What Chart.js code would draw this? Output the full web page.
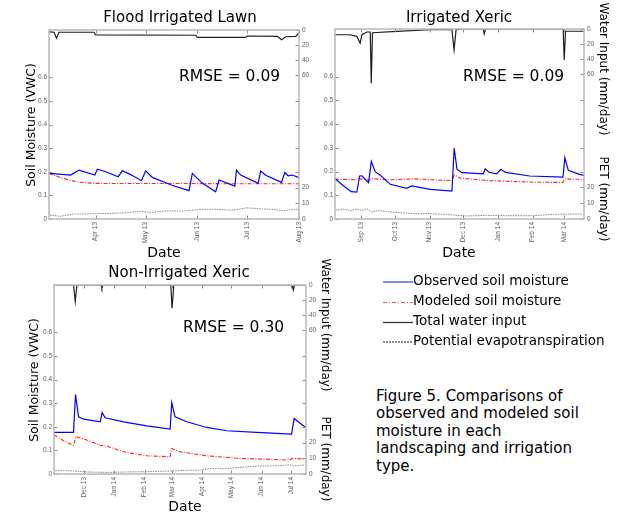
<!DOCTYPE html>
<html><head><meta charset="utf-8">
<script src="https://cdn.jsdelivr.net/npm/chart.js@4.4.1/dist/chart.umd.min.js"></script>
<style>
html,body{margin:0;padding:0;background:#fff;}
body{width:623px;height:512px;position:relative;overflow:hidden;font-family:"DejaVu Sans",sans-serif;color:#000;}
canvas{position:absolute;}
.t{position:absolute;white-space:nowrap;line-height:1;}
.c{transform:translateX(-50%);}
.rl{transform:translate(-50%,-50%) rotate(-90deg);}
.rr{transform:translate(-50%,-50%) rotate(90deg);}
</style></head><body>
<canvas id="c1" width="308" height="231" style="left:19px;top:22px"></canvas>
<canvas id="c2" width="307" height="232" style="left:305px;top:21px"></canvas>
<canvas id="c3" width="310" height="231" style="left:24px;top:277px"></canvas>

<div class="t c" style="left:180px;top:10px;font-size:15px">Flood Irrigated Lawn</div>
<div class="t c" style="left:459px;top:10px;font-size:15px">Irrigated Xeric</div>
<div class="t c" style="left:179px;top:265px;font-size:15px">Non-Irrigated Xeric</div>

<div class="t" style="left:179px;top:68.5px;font-size:15.5px">RMSE = 0.09</div>
<div class="t" style="left:463px;top:68.5px;font-size:15.5px">RMSE = 0.09</div>
<div class="t" style="left:183px;top:320px;font-size:15.5px">RMSE = 0.30</div>

<div class="t c" style="left:164px;top:245px;font-size:14px">Date</div>
<div class="t c" style="left:459px;top:245px;font-size:14px">Date</div>
<div class="t c" style="left:185px;top:499px;font-size:14px">Date</div>

<div class="t rl" style="left:31px;top:125px;font-size:12.5px">Soil Moisture (VWC)</div>
<div class="t rl" style="left:34px;top:380px;font-size:12.5px">Soil Moisture (VWC)</div>

<div class="t rr" style="left:603.5px;top:69px;font-size:12px">Water Input (mm/day)</div>
<div class="t rr" style="left:603.5px;top:198.5px;font-size:12px">PET (mm/day)</div>
<div class="t rr" style="left:326px;top:325px;font-size:12px">Water Input (mm/day)</div>
<div class="t rr" style="left:326px;top:458.5px;font-size:12px">PET (mm/day)</div>

<svg style="position:absolute;left:380px;top:270px" width="40" height="80">
 <line x1="3" y1="12" x2="33" y2="12" stroke="#2040e0" stroke-width="1.2"/>
 <line x1="3" y1="32.5" x2="33" y2="32.5" stroke="#ff5a5a" stroke-width="1.2" stroke-dasharray="4 2 1 2"/>
 <line x1="3" y1="52.5" x2="33" y2="52.5" stroke="#333" stroke-width="1.3"/>
 <line x1="3" y1="72" x2="33" y2="72" stroke="#000" stroke-width="0.9" stroke-dasharray="2 1"/>
</svg>
<div class="t" style="left:413px;top:274.3px;font-size:13.5px">Observed soil moisture</div>
<div class="t" style="left:413px;top:294.3px;font-size:13.5px">Modeled soil moisture</div>
<div class="t" style="left:413px;top:314.3px;font-size:13.5px">Total water input</div>
<div class="t" style="left:413px;top:334px;font-size:13.5px">Potential evapotranspiration</div>

<div style="position:absolute;left:376px;top:387.7px;font-size:15px;line-height:17.6px;white-space:nowrap">Figure 5. Comparisons of<br>observed and modeled soil<br>moisture in each<br>landscaping and irrigation<br>type.</div>

<script>
// ---- axis ticks ----
const SM_MAX = 0.8, WAT_MAX = 252, PET_MAX = 120;
const smTicks = [0, 0.1, 0.2, 0.3, 0.4, 0.5, 0.6];
const smLabels = ['0', '0.1', '0.2', '0.3', '0.4', '0.5', '0.6'];
const smMirror = [0.2, 0.3, 0.4, 0.5];
const watTicks = [0, 20, 40, 60];
const petTicks = [0, 10, 20];

// ---- Panel 1: Flood Irrigated Lawn (day number, 1 = Jan 1 2013) ----
const p1Range = [63, 213];
const p1XTicks = [91, 121, 152, 182, 213];
const p1XLabels = ['Apr 13', 'May 13', 'Jun 13', 'Jul 13', 'Aug 13'];
const p1ObsDay = [63, 76, 81, 90.5, 92, 97, 104.5, 107, 112, 118.5, 121, 125, 136, 147, 149, 155, 163, 165, 174.5, 175.5, 178, 188.5, 190, 193, 202.5, 204.5, 206.5, 209, 213];
const p1ObsVal = [0.193, 0.186, 0.207, 0.186, 0.211, 0.200, 0.179, 0.204, 0.188, 0.162, 0.204, 0.176, 0.145, 0.120, 0.193, 0.152, 0.115, 0.165, 0.139, 0.207, 0.186, 0.151, 0.203, 0.185, 0.155, 0.197, 0.183, 0.186, 0.175];
const p1ModDay = [63, 67, 70, 75, 81, 90, 100, 150, 180, 213];
const p1ModVal = [0.193, 0.183, 0.175, 0.165, 0.156, 0.151, 0.150, 0.150, 0.149, 0.149];
const p1WatDay = [63, 66, 67.5, 69, 90, 91, 151, 152, 181, 182, 200, 202.5, 205, 211, 213];
const p1WatVal = [2.5, 3, 11, 3, 3, 6.5, 7, 9.8, 9.8, 8, 8.5, 13, 9, 8.5, 4];
const p1PetDay = [63.6, 69.6, 77.6, 97.7, 109.7, 117.7, 123.7, 133.7, 143.7, 153.7, 161.7, 173.8, 181.8, 189.8, 197.8, 203.8, 209.8, 213];
const p1PetVal = [2.5, 1.7, 3.1, 3.5, 3.9, 5.0, 4.2, 5.2, 5.0, 6.1, 6.2, 5.6, 7.1, 6.5, 6.1, 5.2, 6.1, 6.2];

// ---- Panel 2: Irrigated Xeric ----
const p2Range = [220.5, 443];
const p2XTicks = [244, 274, 305, 335, 366, 397, 425];
const p2XLabels = ['Sep 13', 'Oct 13', 'Nov 13', 'Dec 13', 'Jan 14', 'Feb 14', 'Mar 14'];
const p2ObsDay = [220.5, 228, 235, 240, 242.5, 244.5, 250.5, 253, 256.5, 261, 270, 284.5, 289, 305.5, 325, 327, 329.5, 334, 353, 354.7, 358, 365, 368.6, 373, 394.5, 424.2, 425.9, 429, 439, 443];
const p2ObsVal = [0.170, 0.140, 0.115, 0.113, 0.181, 0.182, 0.153, 0.242, 0.198, 0.184, 0.146, 0.129, 0.139, 0.125, 0.117, 0.299, 0.210, 0.195, 0.190, 0.211, 0.197, 0.190, 0.209, 0.196, 0.181, 0.176, 0.258, 0.205, 0.188, 0.184];
const p2ModDay = [220.5, 238.5, 242, 250.5, 253.5, 267, 290.5, 320, 325.5, 327, 332.5, 356, 398, 424, 426, 430, 443];
const p2ModVal = [0.168, 0.165, 0.170, 0.164, 0.170, 0.165, 0.169, 0.162, 0.164, 0.186, 0.172, 0.162, 0.155, 0.154, 0.170, 0.168, 0.167];
const p2WatDay = [220.5, 234, 240, 243, 244.5, 249, 252, 252.9, 254, 275.8, 305.5, 325, 326.9, 328.7, 335, 353, 353.8, 355, 424.4, 425.3, 426.5, 443];
const p2WatVal = [7.6, 7.6, 9.8, 18.7, 7.6, 4, 4, 72, 5, 3.2, 1, 1, 27.6, 1, 0, 0, 6.7, 0, 0, 41, 3, 3];
const p2PetDay = [220.8, 228.2, 234.2, 240.2, 244.6, 249.1, 253.5, 259.5, 266.9, 278.8, 290.6, 302.6, 314.4, 326.3, 338.2, 356, 373.9, 397.7, 415.5, 427.4, 442.2];
const p2PetVal = [5.6, 6.25, 5.2, 6.25, 5.4, 6.5, 4.4, 5.4, 4.6, 4.0, 3.3, 3.5, 3.1, 2.5, 1.9, 2.3, 2.1, 2.1, 2.9, 3.1, 3.1];

// ---- Panel 3: Non-Irrigated Xeric ----
const p3Range = [304, 562.5];
const p3XTicks = [335, 366, 397, 425, 456, 486, 517, 547];
const p3XLabels = ['Dec 13', 'Jan 14', 'Feb 14', 'Mar 14', 'Apr 14', 'May 14', 'Jun 14', 'Jul 14'];
const p3ObsDay = [304, 324, 326.1, 329.2, 334.3, 351.4, 353.4, 356.5, 375.3, 399.2, 423.1, 424.8, 428.2, 440.2, 460.7, 481.2, 511.9, 547.7, 550.4, 554.5, 562.5];
const p3ObsVal = [0.176, 0.176, 0.336, 0.242, 0.232, 0.221, 0.26, 0.238, 0.221, 0.204, 0.19, 0.302, 0.242, 0.221, 0.197, 0.183, 0.176, 0.169, 0.235, 0.221, 0.196];
const p3ModDay = [304, 313.8, 324, 326.5, 334.3, 351.4, 358.2, 375.3, 399.2, 423.1, 424.8, 433.3, 460.7, 494.8, 546, 548.7, 562.5];
const p3ModVal = [0.166, 0.141, 0.121, 0.158, 0.149, 0.122, 0.118, 0.094, 0.077, 0.073, 0.108, 0.094, 0.077, 0.066, 0.059, 0.066, 0.063];
const p3WatDay = [304, 324, 325.8, 327.5, 352.4, 353.1, 354, 423.8, 425.1, 426.9, 548.4, 549.5, 550.8, 562.5];
const p3WatVal = [0, 0, 22, 0, 0, 4, 0, 0, 31, 0, 0, 6.7, 0, 0];
const p3PetDay = [305.3, 317.3, 324, 337.7, 358.2, 378.7, 399.2, 423.1, 440.2, 453.8, 464, 477.7, 494.8, 511.9, 528.9, 546, 552.8, 561.3];
const p3PetVal = [2.1, 2.1, 1.9, 1.3, 1.0, 1.3, 1.5, 1.9, 2.3, 2.5, 3.5, 3.3, 4.2, 5.0, 5.2, 5.8, 5.2, 5.8];

// ---- drawing ----
const LW = 30, RW = 28, PT = 8, XH = 34;
const tickFont = { family: '"Liberation Sans", Arial, sans-serif', size: 6.5 };
const tickColor = '#606060';
const pts = (xs, ys) => xs.map((x, i) => ({ x: x, y: ys[i] }));

const frameTicks = {
  id: 'frameTicks',
  afterDraw(chart) {
    const { ctx, chartArea: a, scales } = chart;
    const L = 3.5;
    ctx.save();
    ctx.strokeStyle = '#8c8c8c';
    ctx.lineWidth = 1;
    ctx.beginPath();
    scales.x.ticks.forEach(t => {
      const px = Math.round(scales.x.getPixelForValue(t.value)) + 0.5;
      ctx.moveTo(px, a.bottom); ctx.lineTo(px, a.bottom - L);
      ctx.moveTo(px, a.top); ctx.lineTo(px, a.top + L);
    });
    scales.y.ticks.forEach(t => {
      const py = Math.round(scales.y.getPixelForValue(t.value)) + 0.5;
      ctx.moveTo(a.left, py); ctx.lineTo(a.left + L, py);
    });
    scales.yP.ticks.forEach(t => {
      const py = Math.round(scales.yP.getPixelForValue(t.value)) + 0.5;
      ctx.moveTo(a.right, py); ctx.lineTo(a.right - L, py);
    });
    ctx.stroke();
    ctx.strokeStyle = '#b8b8b8';
    ctx.lineWidth = 1.5;
    ctx.strokeRect(a.left, a.top, a.right - a.left, a.bottom - a.top);
    ctx.restore();
  }
};

function makePanel(id, range, xTicks, xLabels, obsD, obsV, modD, modV, watD, watV, petD, petV) {
  new Chart(document.getElementById(id), {
    type: 'line',
    data: {
      datasets: [
        { data: pts(obsD, obsV), yAxisID: 'y', borderColor: '#0000ff', borderWidth: 1.2 },
        { data: pts(modD, modV), yAxisID: 'y', borderColor: '#ff2020', borderWidth: 1.1, borderDash: [4, 1.5, 1, 1.5] },
        { data: pts(watD, watV), yAxisID: 'yW', borderColor: '#1e1e1e', borderWidth: 1.2 },
        { data: pts(petD, petV), yAxisID: 'yP', borderColor: '#6a6a6a', borderWidth: 0.8, borderDash: [1.5, 1] }
      ]
    },
    options: {
      responsive: false,
      animation: false,
      layout: { padding: { top: PT, left: 0, right: 0, bottom: 0 } },
      elements: { point: { radius: 0 }, line: { tension: 0 } },
      plugins: { legend: { display: false }, tooltip: { enabled: false }, title: { display: false } },
      scales: {
        x: {
          type: 'linear', min: range[0], max: range[1],
          grid: { display: false, drawTicks: false }, border: { display: false },
          afterBuildTicks: s => { s.ticks = xTicks.map(v => ({ value: v })); },
          ticks: { autoSkip: false, minRotation: 90, maxRotation: 90, padding: 3, font: tickFont, color: tickColor,
                   callback: (v, i) => xLabels[i] },
          afterFit: s => { s.height = XH; s.paddingLeft = 0; s.paddingRight = 0; }
        },
        y: {
          position: 'left', min: 0, max: SM_MAX,
          grid: { display: false, drawTicks: false }, border: { display: false },
          afterBuildTicks: s => { s.ticks = smTicks.map(v => ({ value: v })); },
          ticks: { padding: 2, font: tickFont, color: tickColor, callback: (v, i) => smLabels[i] },
          afterFit: s => { s.width = LW; s.paddingTop = 0; s.paddingBottom = 0; }
        },
        yW: { display: false, reverse: true, min: 0, max: WAT_MAX },
        yP: {
          position: 'right', min: 0, max: PET_MAX,
          grid: { display: false, drawTicks: false }, border: { display: false },
          afterBuildTicks: s => {
            const arr = [], labs = [];
            petTicks.forEach(v => { arr.push({ value: v }); labs.push(String(v)); });
            watTicks.forEach(w => { arr.push({ value: PET_MAX * (1 - w / WAT_MAX) }); labs.push(String(w)); });
            smMirror.forEach(m => { arr.push({ value: PET_MAX * m / SM_MAX }); labs.push(''); });
            s.ticks = arr; s._labs = labs;
          },
          ticks: { padding: 3, font: tickFont, color: tickColor, callback: function (v, i) { return this._labs ? this._labs[i] : ''; } },
          afterFit: s => { s.width = RW; s.paddingTop = 0; s.paddingBottom = 0; }
        }
      }
    },
    plugins: [frameTicks]
  });
}

makePanel('c1', p1Range, p1XTicks, p1XLabels, p1ObsDay, p1ObsVal, p1ModDay, p1ModVal, p1WatDay, p1WatVal, p1PetDay, p1PetVal);
makePanel('c2', p2Range, p2XTicks, p2XLabels, p2ObsDay, p2ObsVal, p2ModDay, p2ModVal, p2WatDay, p2WatVal, p2PetDay, p2PetVal);
makePanel('c3', p3Range, p3XTicks, p3XLabels, p3ObsDay, p3ObsVal, p3ModDay, p3ModVal, p3WatDay, p3WatVal, p3PetDay, p3PetVal);
</script>
</body></html>
